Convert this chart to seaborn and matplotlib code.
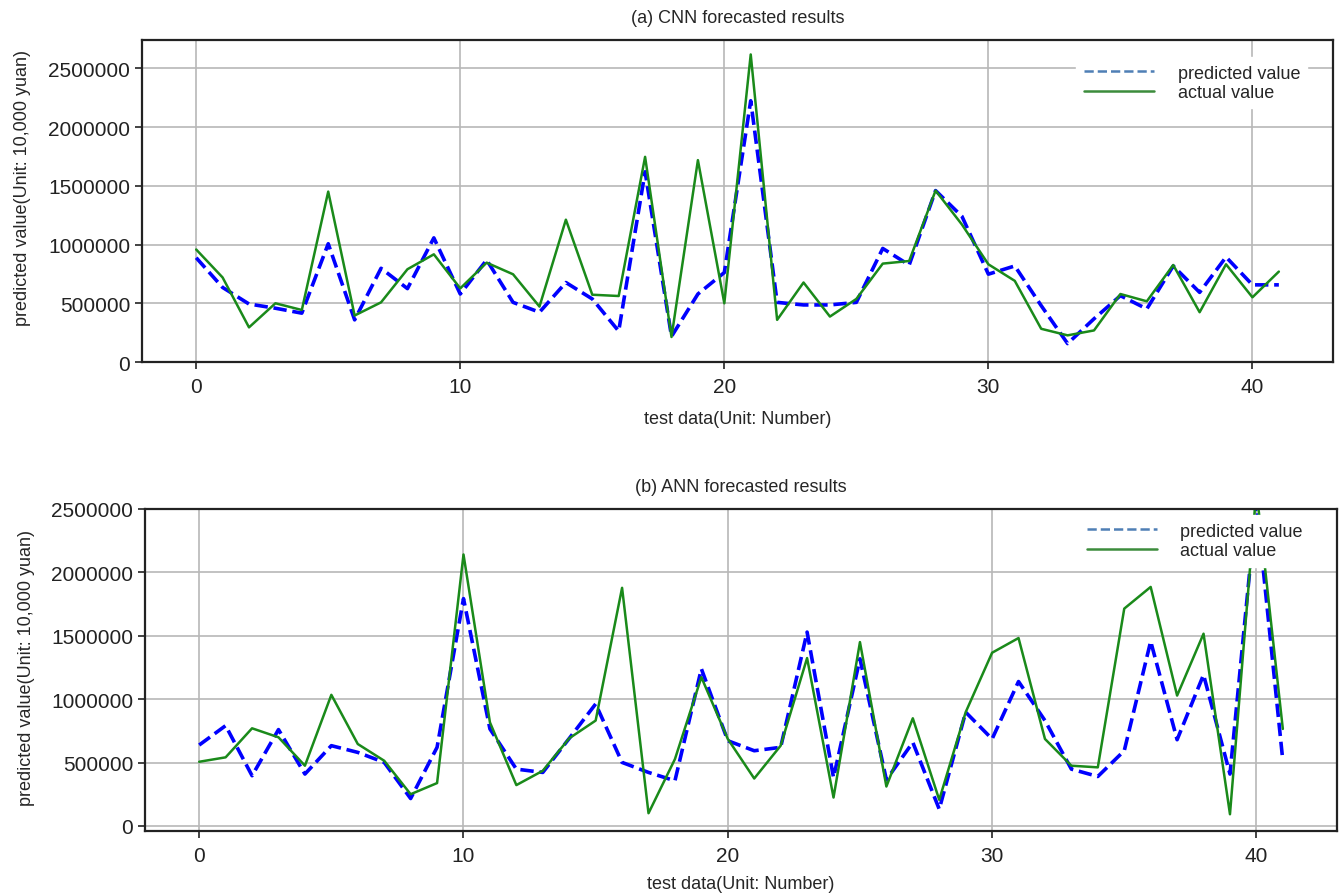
import numpy as np
import pandas as pd
import seaborn as sns
import matplotlib.pyplot as plt
from matplotlib.lines import Line2D

# values (unit: 10,000 yuan)
cnn_pred = [888000, 635000, 494000, 458000, 416000, 1007000, 359000, 798000, 625000, 1057000,
            579000, 869000, 508000, 424000, 677000, 537000, 263000, 1620000, 218000, 579000,
            762000, 2225000, 508000, 486000, 486000, 508000, 967000, 826000, 1460000, 1240000,
            748000, 818000, 480000, 157000, 368000, 565000, 452000, 818000, 593000, 894000,
            657000, 657000]
cnn_actual = [958000, 720000, 295000, 500000, 443000, 1451000, 396000, 508000, 790000, 917000,
              627000, 846000, 747000, 472000, 1212000, 573000, 562000, 1747000, 213000, 1719000,
              500000, 2619000, 359000, 677000, 387000, 537000, 838000, 860000, 1460000, 1170000,
              832000, 691000, 283000, 227000, 269000, 579000, 517000, 826000, 424000, 832000,
              551000, 770000]
ann_pred = [638000, 791000, 396000, 760000, 409000, 633000, 580000, 501000, 216000, 620000,
            1793000, 765000, 448000, 422000, 690000, 962000, 501000, 422000, 356000, 1239000,
            672000, 593000, 620000, 1529000, 382000, 1318000, 364000, 659000, 132000, 897000,
            686000, 1139000, 831000, 448000, 390000, 593000, 1456000, 680000, 1192000, 409000,
            2550000, 514000]
ann_actual = [506000, 541000, 770000, 699000, 475000, 1034000, 646000, 514000, 250000, 338000,
              2141000, 817000, 322000, 435000, 691000, 831000, 1878000, 100000, 527000, 1173000,
              686000, 374000, 633000, 1324000, 224000, 1450000, 311000, 849000, 206000, 897000,
              1366000, 1482000, 686000, 475000, 462000, 1714000, 1885000, 1028000, 1516000, 92000,
              2650000, 765000]

titles = ["(a) CNN forecasted results", "(b) ANN forecasted results"]
xlabel = "test data(Unit: Number)"
ylabel = "predicted value(Unit: 10,000 yuan)"
legend_labels = ["predicted value", "actual value"]

sns.set_theme(style="whitegrid")
plt.rcParams["font.family"] = ["Liberation Sans", "DejaVu Sans"]

fig = plt.figure(figsize=(13.44, 8.95), dpi=100)
ax1 = fig.add_axes([0.1057, 0.5944, 0.8861, 0.3598])
ax2 = fig.add_axes([0.1079, 0.0704, 0.8869, 0.3598])

# axis, predicted, actual, title, legend anchor, ylabel coords, xlabel pad
panels = [(ax1, cnn_pred, cnn_actual, titles[0], (0.983, 0.963), (-0.093, 0.543), 10),
          (ax2, ann_pred, ann_actual, titles[1], (0.982, 0.997), (-0.092, 0.509), 7)]

for ax, pred, actual, title, anchor, ycoords, xpad in panels:
    df = pd.DataFrame({"x": np.arange(len(pred)), "pred": pred, "actual": actual})
    sns.lineplot(data=df, x="x", y="pred", ax=ax, color="#0000ff", linestyle="--",
                 linewidth=2.6)
    sns.lineplot(data=df, x="x", y="actual", ax=ax, color="#1a8a1a", linewidth=1.8)

    ax.set_title(title, fontsize=13, pad=13)
    ax.set_xlabel(xlabel, fontsize=13, labelpad=xpad)
    ax.set_ylabel(ylabel, fontsize=13)
    ax.yaxis.set_label_coords(*ycoords)
    ax.set_xticks([0, 10, 20, 30, 40])
    ax.set_yticks([0, 500000, 1000000, 1500000, 2000000, 2500000])
    ax.ticklabel_format(axis="y", style="plain", useOffset=False)
    ax.tick_params(axis="both", labelsize=15, length=5, width=1.2, colors="#222222",
                   direction="out", bottom=True, left=True)
    ax.tick_params(axis="x", pad=6)
    ax.grid(True, color="#b8b8b8", linewidth=1.2)
    for sp in ax.spines.values():
        sp.set_color("#222222")
        sp.set_linewidth(1.6)

    handles = [Line2D([], [], color="#4f7fb5", linestyle="--", linewidth=1.8),
               Line2D([], [], color="#3c8c3c", linewidth=1.8)]
    ax.legend(handles, legend_labels, loc="upper right", fontsize=13,
              handlelength=3.9, handletextpad=1.3, labelspacing=0.15,
              frameon=True, facecolor="white", edgecolor="white", framealpha=1,
              borderaxespad=0.3, bbox_to_anchor=anchor)

ax2.set_ylim(-40000, 2500000)

fig.savefig("out.png", dpi=100)
